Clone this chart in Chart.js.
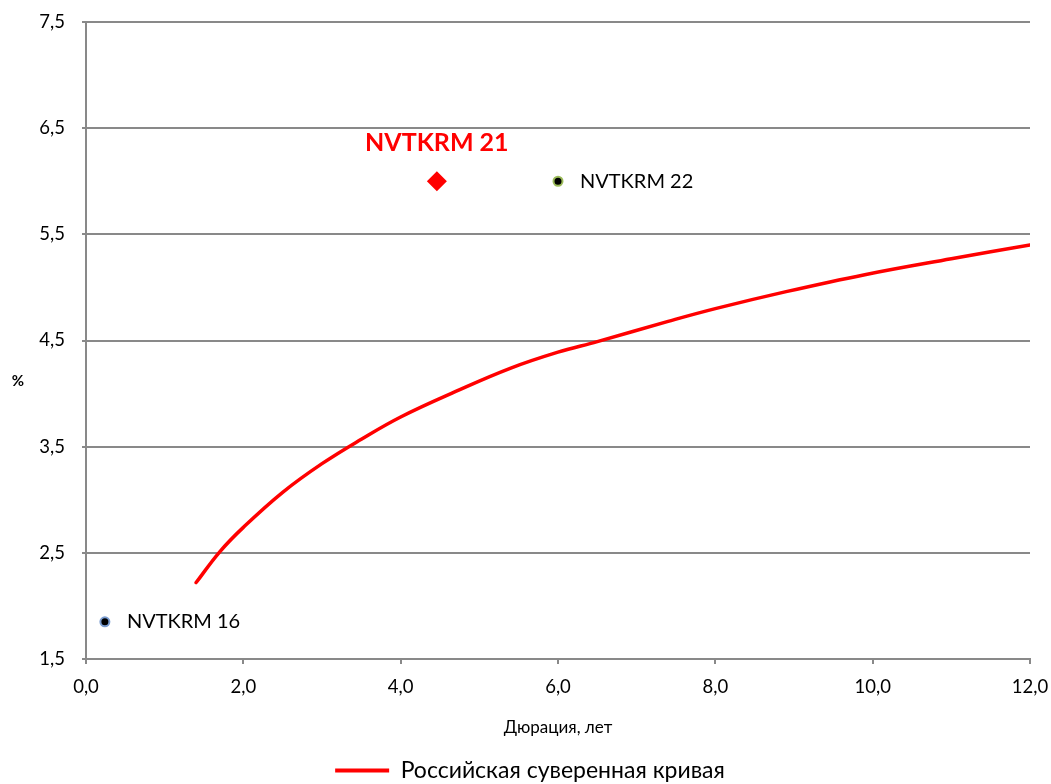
<!DOCTYPE html>
<html>
<head>
<meta charset="utf-8">
<script src="https://cdn.jsdelivr.net/npm/chart.js@4"></script>
<style>
    html, body { margin: 0; padding: 0; background: #fff; }
    #wrap { width: 1051px; height: 784px; }
</style>
</head>
<body>
<div id="wrap"><canvas id="curveChart"></canvas></div>
<script>
// Sovereign curve (duration, yield)
const curveX = [1.4, 1.7, 2.0, 2.5, 3.0, 3.5, 4.0, 4.7, 5.4, 6.0, 6.5, 7.4, 8.0, 8.9, 9.9, 11.0, 12.0];
const curveY = [2.22, 2.51, 2.74, 3.07, 3.34, 3.57, 3.78, 4.02, 4.24, 4.39, 4.49, 4.68, 4.80, 4.96, 5.12, 5.27, 5.40];

// Bonds
const bondNames = ['NVTKRM 16', 'NVTKRM 21', 'NVTKRM 22'];
const bondX = [0.24, 4.46, 6.0];
const bondY = [1.85, 6.0, 6.0];

const yTicks = [1.5, 2.5, 3.5, 4.5, 5.5, 6.5, 7.5];
const xTicks = [0, 2, 4, 6, 8, 10, 12];

const FONT = "Lato, 'Noto Sans', 'DejaVu Sans', sans-serif";
const GRID = '#898989';

function fmt(v) {
    return v.toFixed(1).replace('.', ',');
}

function point(i) {
    return [{ x: bondX[i], y: bondY[i] }];
}

// Draws bond names next to their points and the "%" axis label
const labelPlugin = {
    id: 'bondLabels',
    afterLayout(chart) {
        // legend sits a bit right of the canvas centre in the original
        chart.legend.left += 15;
        chart.legend.right += 15;
    },
    afterDatasetsDraw(chart) {
        const ctx = chart.ctx;
        ctx.save();
        chart.data.datasets.forEach((ds, i) => {
            if (!ds.bondLabel) return;
            const el = chart.getDatasetMeta(i).data[0];
            ctx.fillStyle = ds.bondLabel.color;
            ctx.font = ds.bondLabel.font;
            ctx.textBaseline = 'middle';
            if (ds.bondLabel.above) {
                ctx.textAlign = 'center';
                ctx.fillText(ds.label, el.x, el.y - 38);
            } else {
                ctx.textAlign = 'left';
                ctx.fillText(ds.label, el.x + 22, el.y);
            }
        });
        ctx.fillStyle = '#000';
        ctx.font = 'bold 15px ' + FONT;
        ctx.textAlign = 'center';
        ctx.textBaseline = 'middle';
        ctx.fillText('%', 18, 381);
        ctx.restore();
    }
};

const ctx = document.getElementById('curveChart').getContext('2d');

new Chart(ctx, {
    type: 'scatter',
    data: {
        datasets: [
            {
                type: 'line',
                label: 'Российская суверенная кривая',
                data: curveX.map((x, i) => ({ x: x, y: curveY[i] })),
                borderColor: '#ff0000',
                backgroundColor: '#ff0000',
                borderWidth: 3.5,
                pointRadius: 0,
                tension: 0.4,
                borderCapStyle: 'round',
                fill: false
            },
            {
                label: bondNames[0],
                data: point(0),
                pointStyle: 'circle',
                pointRadius: 4.5,
                backgroundColor: '#000',
                borderColor: '#7a9cd0',
                borderWidth: 2,
                bondLabel: { color: '#000', font: '20px ' + FONT }
            },
            {
                label: bondNames[1],
                data: point(1),
                pointStyle: 'rectRot',
                pointRadius: 10,
                backgroundColor: '#ff0000',
                borderColor: '#ff0000',
                borderWidth: 0,
                bondLabel: { color: '#ff0000', font: 'bold 25px ' + FONT, above: true }
            },
            {
                label: bondNames[2],
                data: point(2),
                pointStyle: 'circle',
                pointRadius: 4.5,
                backgroundColor: '#000',
                borderColor: '#9bbb59',
                borderWidth: 2,
                bondLabel: { color: '#000', font: '20px ' + FONT }
            }
        ]
    },
    options: {
        responsive: true,
        maintainAspectRatio: false,
        animation: false,
        layout: {
            autoPadding: false,
            padding: { left: 0, right: 21, top: 22, bottom: -8 }
        },
        plugins: {
            legend: {
                position: 'bottom',
                labels: {
                    font: { family: FONT, size: 23 },
                    color: '#000',
                    padding: 2,
                    boxWidth: 54,
                    boxHeight: 4,
                    generateLabels: chart => [{
                        text: chart.data.datasets[0].label,
                        fillStyle: '#ff0000',
                        strokeStyle: '#ff0000',
                        lineWidth: 0,
                        datasetIndex: 0
                    }]
                }
            },
            tooltip: { enabled: false }
        },
        scales: {
            x: {
                type: 'linear',
                min: 0,
                max: 12,
                afterBuildTicks: scale => {
                    scale.ticks = xTicks.map(v => ({ value: v }));
                },
                afterFit: scale => {
                    scale.height = 98;
                    scale.paddingLeft = 0;
                    scale.paddingRight = 0;
                },
                border: { color: GRID, width: 2 },
                grid: {
                    drawOnChartArea: false,
                    drawTicks: true,
                    tickLength: 5,
                    color: GRID,
                    lineWidth: 2
                },
                ticks: {
                    padding: 12,
                    color: '#000',
                    font: { family: FONT, size: 18.5 },
                    maxRotation: 0,
                    callback: v => fmt(v)
                },
                title: {
                    display: true,
                    text: 'Дюрация, лет',
                    color: '#000',
                    font: { family: FONT, size: 17 },
                    padding: { top: 4, bottom: 19 }
                }
            },
            y: {
                type: 'linear',
                min: 1.5,
                max: 7.5,
                afterBuildTicks: scale => {
                    scale.ticks = yTicks.map(v => ({ value: v }));
                },
                afterFit: scale => {
                    scale.width = 86;
                    scale.paddingTop = 0;
                    scale.paddingBottom = 0;
                },
                border: { color: GRID, width: 2 },
                grid: {
                    color: GRID,
                    lineWidth: 2,
                    drawTicks: true,
                    tickLength: 4
                },
                ticks: {
                    padding: 17,
                    color: '#000',
                    font: { family: FONT, size: 18.5 },
                    callback: v => fmt(v)
                }
            }
        }
    },
    plugins: [labelPlugin]
});
</script>
</body>
</html>
